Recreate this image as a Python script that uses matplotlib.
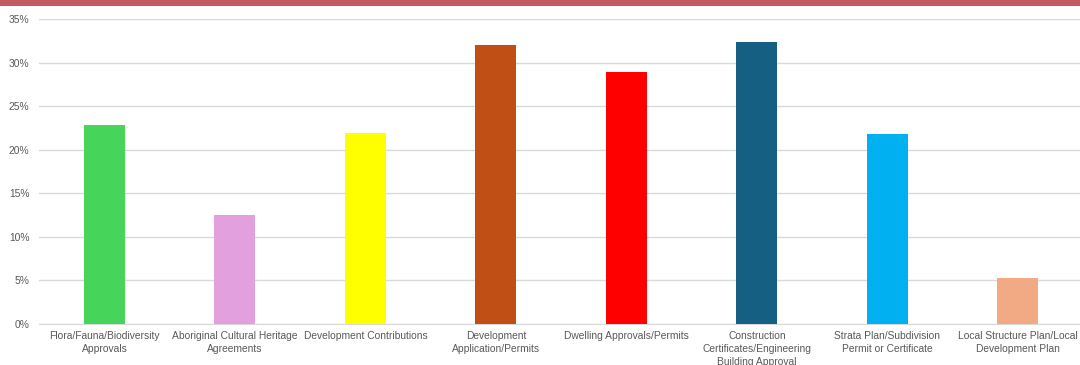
import matplotlib
matplotlib.use("Agg")
import matplotlib.pyplot as plt
from matplotlib.patches import Rectangle
from matplotlib.ticker import PercentFormatter

categories = [
    "Flora/Fauna/Biodiversity\nApprovals",
    "Aboriginal Cultural Heritage\nAgreements",
    "Development Contributions",
    "Development\nApplication/Permits",
    "Dwelling Approvals/Permits",
    "Construction\nCertificates/Engineering\nBuilding Approval",
    "Strata Plan/Subdivision\nPermit or Certificate",
    "Local Structure Plan/Local\nDevelopment Plan",
]
values = [22.8, 12.5, 21.9, 32.0, 28.9, 32.4, 21.8, 5.3]
colors = ["#47D45B", "#E3A0DE", "#FFFF00", "#C04F15", "#FF0000", "#156082", "#00B0F0", "#F2AA84"]
yticks = [0, 5, 10, 15, 20, 25, 30, 35]

plt.rcParams['font.family'] = ['Liberation Sans', 'DejaVu Sans']

fig = plt.figure(figsize=(10.8, 3.65), dpi=100)
fig.patches.append(Rectangle((0, 1 - 6 / 365), 1, 6 / 365, transform=fig.transFigure,
                             facecolor="#C55A62", edgecolor="none", zorder=0))
ax = fig.add_axes([39.2 / 1080, 1 - 324 / 365, 1044 / 1080, (324 - 19) / 365])

x = range(len(categories))
ax.bar(x, values, width=0.314, color=colors, zorder=3)
ax.set_xlim(-0.5, len(categories) - 0.5)
ax.set_ylim(0, 35)
ax.set_yticks(yticks)
ax.yaxis.set_major_formatter(PercentFormatter(decimals=0))
ax.set_xticks(list(x))
ax.set_xticklabels(categories, linespacing=1.35)
ax.tick_params(axis="both", length=0, labelsize=7.4, labelcolor="#595959")
ax.tick_params(axis="y", pad=7)
ax.tick_params(axis="x", pad=5)
ax.grid(axis="y", color="#D9D9D9", linewidth=1, zorder=0)
for s in ["top", "right", "left"]:
    ax.spines[s].set_visible(False)
ax.spines["bottom"].set_color("#D9D9D9")
ax.set_axisbelow(True)

fig.savefig("out.png", dpi=100)
